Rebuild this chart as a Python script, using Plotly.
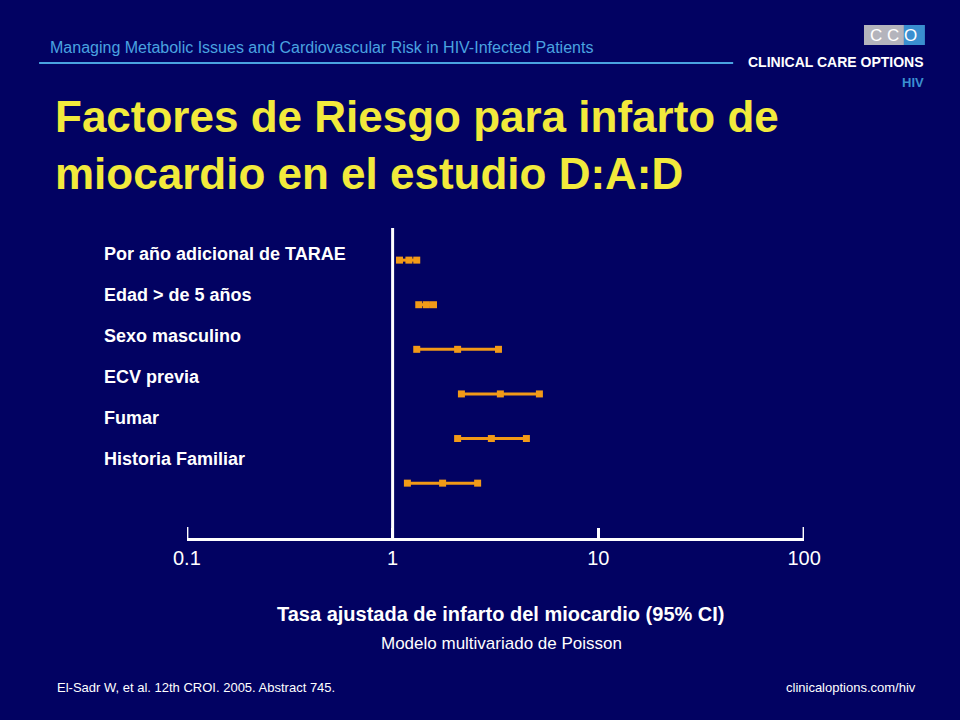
import plotly.graph_objects as go

factors = ["Por año adicional de TARAE", "Edad > de 5 años", "Sexo masculino",
           "ECV previa", "Fumar", "Historia Familiar"]
rr = [1.20, 1.46, 2.07, 3.34, 3.02, 1.75]
ci_low = [1.08, 1.34, 1.31, 2.16, 2.07, 1.18]
ci_high = [1.31, 1.58, 3.27, 5.17, 4.47, 2.59]
rows = list(range(len(factors)))

BG = "#020262"
ORANGE = "#f29a17"
W, H = 960, 720
SQ = 0.969  # horizontal squeeze seen in the rendered page

def px_(x):
    return (W / 2 + (x - W / 2) / SQ) / W

def py(y):
    return 1 - y / H

fig = go.Figure()
for r, lo, m, hi in zip(rows, ci_low, rr, ci_high):
    fig.add_trace(go.Scatter(x=[lo, m, hi], y=[r, r, r], mode="lines+markers",
                             line=dict(color=ORANGE, width=3),
                             marker=dict(symbol="square", size=7, color=ORANGE),
                             showlegend=False, hoverinfo="x"))

fig.update_layout(
    width=W, height=H, margin=dict(l=0, r=0, t=0, b=0),
    paper_bgcolor=BG, plot_bgcolor=BG,
    font=dict(family="Arial, Liberation Sans", color="white"),
    xaxis=dict(type="log", range=[-1, 2], domain=[px_(188), px_(806)],
               tickvals=[0.1, 1, 10, 100], ticktext=["0.1", "1", "10", "100"],
               showgrid=False, zeroline=False, showline=True, linecolor="white",
               linewidth=3, ticks="inside", ticklen=10, tickwidth=3, tickcolor="white",
               tickfont=dict(size=20, color="white"), anchor="y"),
    yaxis=dict(range=[6.23, -0.72], domain=[py(538), py(228)], visible=False),
)

# vertical reference line at 1
fig.add_shape(type="line", xref="x", yref="paper", x0=1, x1=1, y0=py(538), y1=py(228),
              line=dict(color="white", width=3))
# end ticks at 0.1 and 100
for v in (0.1, 100):
    fig.add_shape(type="line", xref="x", yref="paper", x0=v, x1=v, y0=py(538), y1=py(527),
                  line=dict(color="white", width=3))

def text(t, x, y, size, color="white", anchor="left"):
    fig.add_annotation(text=t, xref="paper", yref="paper", x=px_(x), y=py(y),
                       xanchor=anchor, yanchor="middle", showarrow=False, align="left",
                       font=dict(size=size, color=color))

for i, f in enumerate(factors):
    text("<b>%s</b>" % f, 103, 254 + 41 * i, 18)

text("Managing Metabolic Issues and Cardiovascular Risk in HIV-Infected Patients", 49, 48, 16, "#4aa3e0")
fig.add_shape(type="line", xref="paper", yref="paper", x0=px_(40), x1=px_(735),
              y0=py(63), y1=py(63), line=dict(color="#4aa3e0", width=2))
text("<b>Factores de Riesgo para infarto de<br>miocardio en el estudio D:A:D</b>", 54, 145, 44, "#f2ea3c")
text("<b>Tasa ajustada de infarto del miocardio (95% CI)</b>", 503, 614, 20, anchor="center")
text("Modelo multivariado de Poisson", 503, 643, 17, anchor="center")
text("El-Sadr W, et al. 12th CROI. 2005. Abstract 745.", 56, 687, 13)
text("clinicaloptions.com/hiv", 920, 687, 13, anchor="right")

# logo
fig.add_shape(type="rect", xref="paper", yref="paper", x0=px_(866), x1=px_(906),
              y0=py(45), y1=py(25), fillcolor="#b4b4bc", line_width=0)
fig.add_shape(type="rect", xref="paper", yref="paper", x0=px_(906), x1=px_(927),
              y0=py(45), y1=py(25), fillcolor="#3a8fd0", line_width=0)
text("C C O", 896, 35, 17, "white", anchor="center")
text("<b>CLINICAL CARE OPTIONS</b>", 928, 62, 14, "white", anchor="right")
text("<b>HIV</b>", 928, 82, 13, "#3a8fd0", anchor="right")

fig.write_html("out.html", config={"displayModeBar": False},
               post_script="document.body.style.margin='0';"
                           "document.documentElement.style.overflow='hidden';"
                           "document.body.style.overflow='hidden';")
